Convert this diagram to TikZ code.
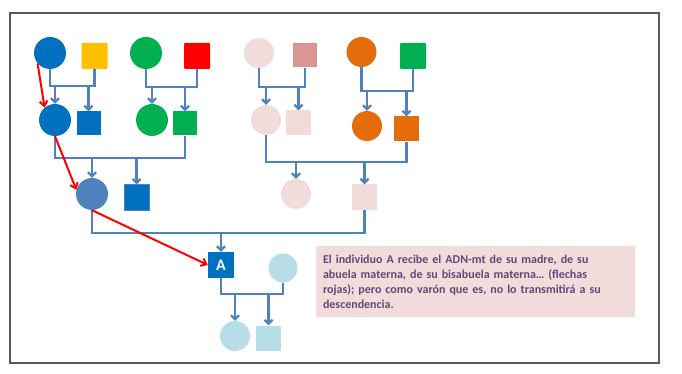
\documentclass[tikz,border=0pt]{standalone}
\usepackage{fontspec}
\setmainfont{Carlito}
\usetikzlibrary{arrows.meta}
\definecolor{azul}{HTML}{0070C0}
\definecolor{amarillo}{HTML}{FFC000}
\definecolor{verde}{HTML}{00B050}
\definecolor{rojo}{HTML}{FF0000}
\definecolor{rosa}{HTML}{F2DCDB}
\definecolor{rosaosc}{HTML}{D99694}
\definecolor{naranja}{HTML}{E46C0A}
\definecolor{acero}{HTML}{4F81BD}
\definecolor{celeste}{HTML}{B7DEE8}
\definecolor{morado}{HTML}{5F497A}
\begin{document}
\begin{tikzpicture}[x=1pt,y=-1pt,
	fem/.style={ circle, draw=none, fill, inner sep=0pt, minimum size=31pt },
	masc/.style={ rectangle, draw=none, fill, inner sep=0pt, minimum size=25pt },
	link/.style={ acero, line width=2.2pt },
	desc/.style={ link, -{Straight Barb[length=4pt,width=8pt]} },
	mito/.style={ rojo, line width=2pt, -{Straight Barb[length=5pt,width=8pt]} }
]
\useasboundingbox (0,0) rectangle (682,374);
\draw[line width=1.3pt, black!65] (10,13) rectangle (659,363);

% first generation
\node at (50,53) (m1) [fem,azul,minimum size=32pt] {};
\node at (94.5,56) (p1) [masc,amarillo,rounded corners=1pt,minimum size=26pt] {};
\node at (146,53) (m2) [fem,verde,minimum size=32pt] {};
\node at (197,56) (p2) [masc,rojo,rounded corners=1pt,minimum size=26pt] {};
\node at (259,53) (m3) [fem,rosa,minimum size=30pt] {};
\node at (305,55.5) (p3) [masc,rosaosc,minimum size=24pt] {};
\node at (361.5,52) (m4) [fem,naranja,minimum size=30pt] {};
\node at (413,56) (p4) [masc,verde,rounded corners=1pt,minimum size=26pt] {};

% second generation
\node at (55,120) (d1) [fem,azul,minimum size=32pt] {};
\node at (88.5,123.5) (s1) [masc,azul,minimum size=24pt] {};
\node at (152,120) (d2) [fem,verde,minimum size=32pt] {};
\node at (185,123.5) (s2) [masc,verde,minimum size=24pt] {};
\node at (266,120) (d3) [fem,rosa,minimum size=30pt] {};
\node at (298.5,123) (s3) [masc,rosa] {};
\node at (367,126) (d4) [fem,naranja,minimum size=30pt] {};
\node at (406.5,129) (s4) [masc,naranja] {};

% third generation
\node at (92,194) (g1) [fem,acero,minimum size=32pt] {};
\node at (136.5,197.5) (g2) [masc,fill=azul,draw=acero,line width=1pt,minimum size=25pt] {};
\node at (296,194) (g3) [fem,rosa,minimum size=30pt] {};
\node at (364.5,197) (g4) [masc,rosa] {};

% A and descendants
\node at (221,265) (a) [masc,azul,minimum size=26pt,text=white,font=\bfseries\fontsize{16}{16}\selectfont] {A};
\node at (283,268) (w) [fem,celeste,minimum size=29pt] {};
\node at (235,336) (k1) [fem,celeste,minimum size=30pt] {};
\node at (268.5,338) (k2) [masc,celeste] {};

\coordinate (b1) at (0,86);
\coordinate (b2) at (0,87);
\coordinate (b3) at (0,87);
\coordinate (b4) at (0,91);
\coordinate (b5) at (0,158);
\coordinate (b6) at (0,162);
\coordinate (b7) at (0,233);
\coordinate (b8) at (0,294);

\draw[link] (m1.south) -- (m1.south |- b1) -- (p1.south |- b1) -- (p1.south);
\draw[desc] (d1.north |- b1) -- (d1.north);
\draw[desc] (s1.north |- b1) -- (s1.north);
\draw[link] (m2.south) -- (m2.south |- b2) -- (p2.south |- b2) -- (p2.south);
\draw[desc] (d2.north |- b2) -- (d2.north);
\draw[desc] (s2.north |- b2) -- (s2.north);
\draw[link] (m3.south) -- (m3.south |- b3) -- (p3.south |- b3) -- (p3.south);
\draw[desc] (d3.north |- b3) -- (d3.north);
\draw[desc] (s3.north |- b3) -- (s3.north);
\draw[link] (m4.south) -- (m4.south |- b4) -- (p4.south |- b4) -- (p4.south);
\draw[desc] (d4.north |- b4) -- (d4.north);
\draw[desc] (s4.north |- b4) -- (s4.north);

\draw[link] (d1.south) -- (d1.south |- b5) -- (s2.south |- b5) -- (s2.south);
\draw[desc] (g1.north |- b5) -- (g1.north);
\draw[desc] (g2.north |- b5) -- (g2.north);
\draw[link] (d3.south) -- (d3.south |- b6) -- (s4.south |- b6) -- (s4.south);
\draw[desc] (g3.north |- b6) -- (g3.north);
\draw[desc] (g4.north |- b6) -- (g4.north);

\draw[link] (g1.south) -- (g1.south |- b7) -- (g4.south |- b7) -- (g4.south);
\draw[desc] (a.north |- b7) -- (a.north);
\draw[link] (a.south) -- (a.south |- b8) -- (w.south |- b8) -- (w.south);
\draw[desc] (k1.north |- b8) -- (k1.north);
\draw[desc] (k2.north |- b8) -- (k2.north);

% maternal line
\draw[mito] (m1.220) -- (d1.130);
\draw[mito] (d1.south) -- (g1.165);
\draw[mito] (g1.south) -- (a.west);

\node at (475.5,281.5) (nota) [fill=rosa, minimum width=319pt, minimum height=71pt, text width=305pt, align=left, inner sep=0pt, text=morado, font=\bfseries\fontsize{12}{15}\selectfont] {El individuo A recibe el ADN-mt de su madre, de su\\abuela materna, de su bisabuela materna… (flechas\\rojas); pero como varón que es, no lo transmitirá a su\\descendencia.};

\end{tikzpicture}
\end{document}
